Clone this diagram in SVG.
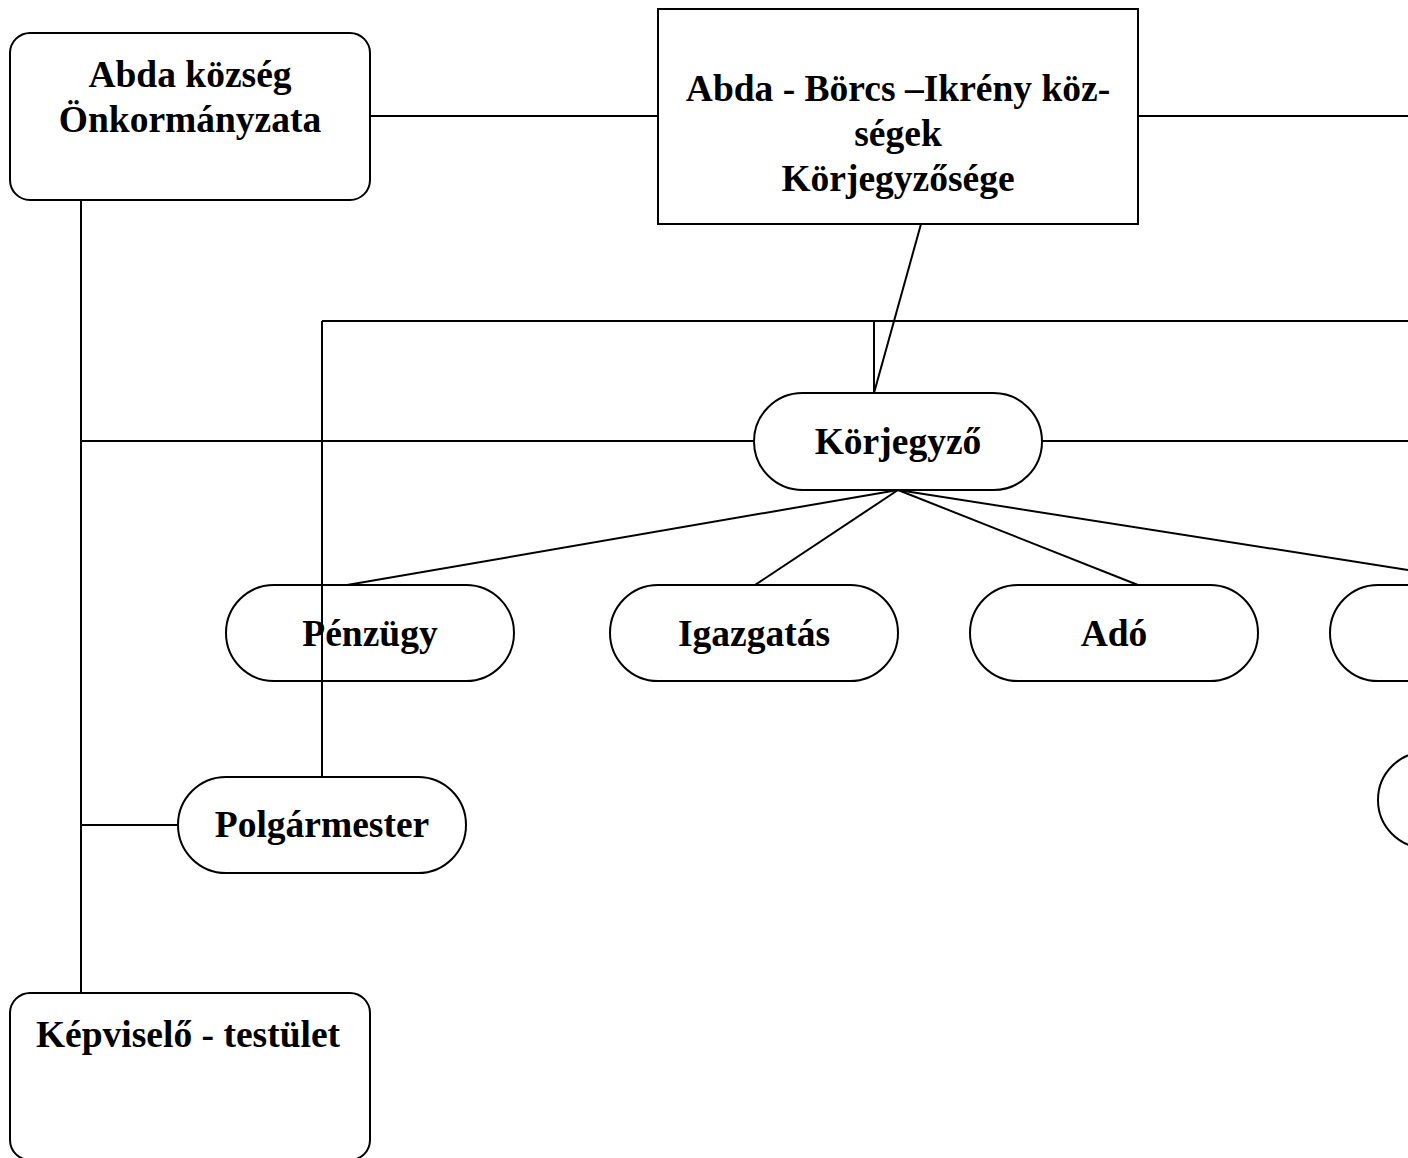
<svg xmlns="http://www.w3.org/2000/svg" width="1408" height="1158" viewBox="0 0 1408 1158">
<style>
.n{fill:#fff;stroke:#000;stroke-width:2}
.c{fill:none;stroke:#000;stroke-width:2}
text{font-family:"Liberation Serif","Times New Roman",serif;font-weight:bold;font-size:37.5px;text-anchor:middle;fill:#000}
</style>
<rect width="1408" height="1158" fill="#fff"/>
<g id="connectors">
<line class="c" x1="370" y1="116" x2="658" y2="116"/>
<line class="c" x1="1138" y1="116" x2="1408" y2="116"/>
<line class="c" x1="921" y1="224" x2="874" y2="393"/>
<line class="c" x1="322" y1="321" x2="1408" y2="321"/>
<line class="c" x1="874" y1="321" x2="874" y2="393"/>
<line class="c" x1="322" y1="321" x2="322" y2="777"/>
<line class="c" x1="81" y1="200" x2="81" y2="993"/>
<line class="c" x1="81" y1="441" x2="754" y2="441"/>
<line class="c" x1="1042" y1="441" x2="1408" y2="441"/>
<line class="c" x1="81" y1="825" x2="178" y2="825"/>
<line class="c" x1="898" y1="490" x2="347" y2="585"/>
<line class="c" x1="898" y1="490" x2="755" y2="585"/>
<line class="c" x1="898" y1="490" x2="1138" y2="585"/>
<line class="c" x1="898" y1="490" x2="1408" y2="570"/>
</g>
<g id="abda">
<rect class="n" x="10" y="33" width="360" height="167" rx="20"/>
<text x="190" y="87">Abda község</text>
<text x="190" y="132">Önkormányzata</text>
</g>
<g id="korjegyzoseg">
<rect class="n" x="658" y="9" width="480" height="215"/>
<text x="898" y="101">Abda - Börcs –Ikrény köz-</text>
<text x="898" y="146">ségek</text>
<text x="898" y="191">Körjegyzősége</text>
</g>
<g id="korjegyzo">
<rect class="n" x="754" y="393" width="288" height="97" rx="48.5"/>
<text x="898" y="454">Körjegyző</text>
</g>
<g id="penzugy">
<rect class="n" x="226" y="585" width="288" height="96" rx="48"/>
<text x="370" y="646">Pénzügy</text>
</g>
<g id="igazgatas">
<rect class="n" x="610" y="585" width="288" height="96" rx="48"/>
<text x="754" y="646">Igazgatás</text>
</g>
<g id="ado">
<rect class="n" x="970" y="585" width="288" height="96" rx="48"/>
<text x="1114" y="646">Adó</text>
</g>
<g id="right1">
<rect class="n" x="1330" y="585" width="288" height="96" rx="48"/>
</g>
<g id="right2">
<rect class="n" x="1378" y="752" width="288" height="96" rx="48"/>
</g>
<line class="c" x1="322" y1="585" x2="322" y2="681"/>
<g id="polgarmester">
<rect class="n" x="178" y="777" width="288" height="96" rx="48"/>
<text x="322" y="837">Polgármester</text>
</g>
<g id="kepviselo">
<rect class="n" x="10" y="993" width="360" height="167" rx="20"/>
<text x="188" y="1047">Képviselő - testület</text>
</g>
</svg>
